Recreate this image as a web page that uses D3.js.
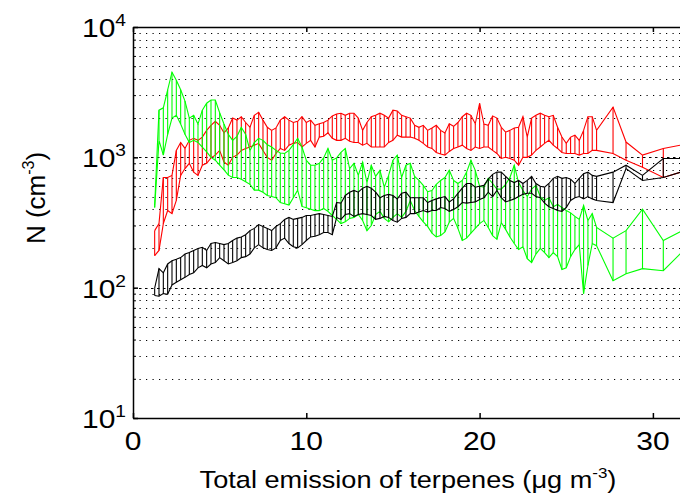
<!DOCTYPE html>
<html><head><meta charset="utf-8">
<script src="https://cdn.jsdelivr.net/npm/d3@7"></script>
<style>body{margin:0;background:#fff}svg{display:block}text{font-family:"Liberation Sans",Arial,sans-serif;fill:#000}</style>
</head><body><svg id="c" width="680" height="499"></svg>
<script>
// x positions (µg m-3)
const xs = [
1.25,1.5,1.75,2,2.25,2.5,2.75,3,3.25,3.5,
3.75,4,4.25,4.5,4.75,5,5.25,5.5,5.75,6,
6.25,6.5,6.75,7,7.25,7.5,7.75,8,8.25,8.5,
8.75,9,9.25,9.5,9.75,10,10.25,10.5,10.75,11,
11.25,11.5,11.75,12,12.25,12.5,12.75,13,13.25,13.5,
13.75,14,14.25,14.5,14.75,15,15.25,15.5,15.75,16,
16.25,16.5,16.75,17,17.25,17.5,17.75,18,18.25,18.5,
18.75,19,19.25,19.5,19.75,20,20.25,20.5,20.75,21,
21.25,21.5,21.75,22,22.25,22.5,22.75,23,23.25,23.5,
23.75,24,24.25,24.5,24.75,25,25.25,25.5,25.75,26,
26.25,26.5,26.75,
27.7,28.45,29.4,30.6,31.6];

const redHi = [
274,310,700,700,727,1130,1300,1170,1350,1400,
1350,1430,1610,1760,1890,1760,1540,1680,2000,1930,
2050,1850,1700,2100,2220,1930,1700,1610,1680,1930,
2050,1930,1850,1890,2050,1850,1930,1760,1810,1850,
1930,2080,2150,2180,2100,2180,2180,2000,1610,1850,
2050,2100,2180,2100,2000,2300,2270,2100,2050,2000,
1760,1700,1760,1610,1680,1760,1610,1540,1810,1730,
1850,2050,2180,2100,1810,2600,1800,1760,2080,2000,
1700,1560,1610,1680,1700,2050,1430,2000,2100,2180,
2100,2050,2100,1700,1430,1280,1430,1480,1350,1610,
2050,2050,1610,
2430,1310,1040,1170,1240];
const redLo = [
176,193,310,391,370,467,727,820,900,770,
727,870,900,990,1040,1130,920,870,1000,1040,
1130,1170,1200,1240,1280,1130,1000,950,1070,1170,
1130,1240,1280,1300,1200,1280,1350,1200,1430,1450,
1540,1400,1350,1350,1400,1330,1300,1300,1240,1280,
1200,1200,1200,1200,1300,1350,1480,1430,1430,1430,
1400,1350,1280,1200,1170,1090,1060,1040,1110,1170,
1200,1240,1170,1130,1200,1170,1200,1200,1130,1070,
980,1000,980,950,870,1000,1000,1040,1130,1200,
1280,1350,1240,1170,1090,1070,1070,1070,1040,1070,
1070,1130,1130,
1070,950,840,700,770];

const greenHi = [
427,2300,2400,3300,4500,3900,3300,2700,2000,2100,
1800,2300,2600,2750,2750,2200,1800,1500,1350,1450,
1700,1500,1130,1300,1400,1350,1250,1200,1130,1080,
1070,1130,1250,1400,1200,950,870,870,900,990,
1170,950,990,1090,1170,820,900,727,920,640,
870,715,795,590,727,950,1040,700,870,900,
715,665,609,545,557,620,665,700,795,665,
630,665,770,950,795,600,590,690,630,570,
570,620,700,870,640,557,500,570,609,500,
467,490,418,435,412,391,375,352,334,427,
328,370,290,
240,274,400,230,270];
const greenLo = [
412,1350,1040,1500,2000,2100,1800,1500,1300,1350,
1300,1200,1100,1000,950,870,800,730,700,700,
680,650,620,560,560,540,510,500,490,450,
440,430,490,560,420,410,400,390,390,405,
385,358,334,310,320,340,346,364,328,274,
300,364,385,340,320,346,370,346,385,467,
391,352,320,295,262,245,251,268,318,340,
285,230,240,262,285,310,328,290,251,235,
316,280,245,218,196,206,167,156,181,200,
186,170,186,173,138,142,173,196,214,90,
148,218,210,
113,128,140,135,183];

const blackHi = [
99,140,130,152,161,165,170,181,186,193,
200,204,193,218,222,218,214,218,230,240,
245,255,274,285,305,295,285,274,295,310,
334,346,334,340,346,358,358,364,370,364,
358,352,450,445,510,540,557,540,580,600,
580,540,490,510,520,510,480,530,540,490,
490,490,490,450,467,480,490,500,455,480,
530,580,630,630,590,600,609,680,740,770,
770,715,665,640,665,630,665,715,630,600,
590,630,690,715,690,700,680,630,690,750,
770,727,715,
770,870,727,980,980];
const blackLo = [
87,86,90,89,105,110,115,120,126,130,
142,148,142,152,156,170,161,152,156,161,
170,173,181,202,214,202,196,193,202,230,
240,218,206,202,214,230,245,248,255,265,
265,255,346,334,364,370,352,364,370,364,
358,334,340,352,346,328,318,340,346,370,
370,380,391,380,391,391,412,405,385,398,
418,450,445,450,455,475,490,540,500,557,
490,455,467,480,500,520,530,530,500,490,
445,418,405,391,385,412,467,490,500,480,
500,480,467,
450,820,665,700,770];

const xTicks = [0, 10, 20, 30];
const yDecades = [10, 100, 1000, 10000];
const yExps = ["1", "2", "3", "4"];

const W = 680, H = 499;
const L = 133, T = 27, B = 418;
const svg = d3.select('#c');
const x = d3.scaleLinear().domain([0, 35]).range([L, L + 17.33 * 35]);
const y = d3.scaleLog().domain([10, 10000]).range([B, T]);

svg.append('defs').append('clipPath').attr('id', 'pc')
  .append('rect').attr('x', L).attr('y', T).attr('width', W - L).attr('height', B - T);

// dotted grid at every log tick
const minor = [];
[10, 100, 1000].forEach(d => { for (let m = 1; m <= 9; m++) { const v = m * d; if (v > 10 && v < 10000) minor.push(v); } });
minor.push(10000);
svg.append('g').selectAll('line').data(minor).join('line')
  .attr('x1', L).attr('x2', W)
  .attr('y1', d => Math.round(y(d)) + 0.5).attr('y2', d => Math.round(y(d)) + 0.5)
  .attr('stroke', '#000').attr('stroke-width', 1.1)
  .attr('stroke-dasharray', d => (d === 100 || d === 1000) ? '2.5,3.5' : '1.2,5.3');

// bands
const plot = svg.append('g').attr('clip-path', 'url(#pc)');
function band(hi, lo, color) {
  const g = plot.append('g').attr('stroke', color).attr('fill', 'none').attr('stroke-width', 1.1);
  const line = d3.line().x((d, i) => x(xs[i])).y(d => y(d));
  g.selectAll('line').data(xs).join('line')
    .attr('x1', d => x(d)).attr('x2', d => x(d))
    .attr('y1', (d, i) => y(hi[i])).attr('y2', (d, i) => y(lo[i]));
  g.append('path').attr('d', line(hi));
  g.append('path').attr('d', line(lo));
}
band(redHi, redLo, '#ff0000');
band(greenHi, greenLo, '#00ff00');
band(blackHi, blackLo, '#000000');

// axes
svg.append('g').attr('transform', `translate(0,${B})`)
  .call(d3.axisBottom(x).tickValues(xTicks).tickSize(-5).tickSizeOuter(0).tickFormat(''))
  .call(g => g.selectAll('path,line').attr('stroke', '#000').attr('stroke-width', 1.5));
svg.append('g').attr('transform', `translate(0,${T})`)
  .call(d3.axisTop(x).tickValues(xTicks).tickSize(-5).tickSizeOuter(0).tickFormat(''))
  .call(g => g.selectAll('path,line').attr('stroke', '#000').attr('stroke-width', 1.5));
svg.append('g').attr('transform', `translate(${L},0)`)
  .call(d3.axisLeft(y).tickValues(yDecades).tickSize(-5).tickSizeOuter(0).tickFormat(''))
  .call(g => g.selectAll('path,line').attr('stroke', '#000').attr('stroke-width', 1.5));
svg.append('g').attr('transform', `translate(${L},0)`)
  .call(d3.axisLeft(y).tickValues(minor.filter(v => !yDecades.includes(v))).tickSize(-3).tickSizeOuter(0).tickFormat(''))
  .call(g => { g.select('path').remove(); g.selectAll('line').attr('stroke', '#000'); });

// x tick labels (slightly widened like the source image)
svg.append('g').selectAll('text').data(xTicks).join('text')
  .attr('transform', d => `translate(${x(d)},450) scale(1.2,1)`).attr('text-anchor', 'middle')
  .attr('font-size', 25).text(d => d);

// y tick labels with superscripts
yDecades.forEach((v, i) => {
  const t = svg.append('text').attr('transform', `translate(126,${y(v) + 10}) scale(1.2,1)`)
    .attr('text-anchor', 'end').attr('font-size', 25);
  t.append('tspan').text('10');
  t.append('tspan').attr('font-size', 16).attr('dy', -11).text(yExps[i]);
});

// axis titles
const xl = svg.append('text').attr('text-anchor', 'middle').attr('font-size', 24);
xl.append('tspan').text('Total emission of terpenes (');
xl.append('tspan').text('\u03bcg m');
xl.append('tspan').attr('font-size', 15).attr('dy', -10).text('-3');
xl.append('tspan').attr('dy', 10).text(')');
const xw = xl.node().getBBox().width;
xl.attr('transform', `translate(408,488) scale(${417 / xw},1)`);

const yl = svg.append('text').attr('transform', 'translate(45,198) rotate(-90)')
  .attr('text-anchor', 'middle').attr('font-size', 26);
yl.append('tspan').text('N (cm');
yl.append('tspan').attr('font-size', 16).attr('dy', -11).text('-3');
yl.append('tspan').attr('dy', 11).text(')');
</script></body></html>
